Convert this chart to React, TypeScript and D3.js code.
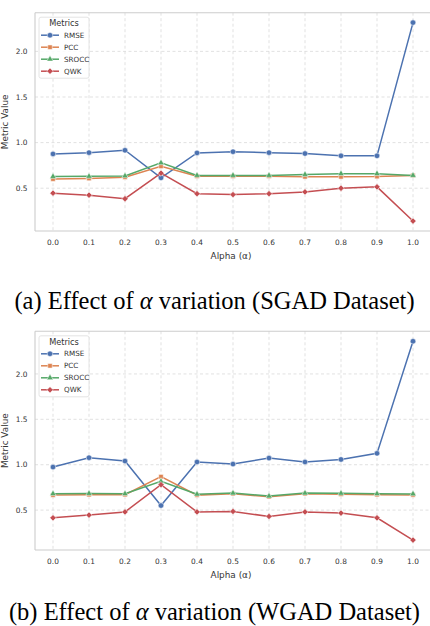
import React from 'react';
import * as d3 from 'd3';

// alpha values on the x axis
const alphas = [0.0, 0.1, 0.2, 0.3, 0.4, 0.5, 0.6, 0.7, 0.8, 0.9, 1.0];
const metricNames = ['RMSE', 'PCC', 'SROCC', 'QWK'];

// SGAD dataset
const sgadRmse = [0.876, 0.89, 0.916, 0.614, 0.887, 0.9, 0.89, 0.88, 0.855, 0.855, 2.315];
const sgadPcc = [0.6, 0.607, 0.62, 0.74, 0.632, 0.632, 0.632, 0.625, 0.625, 0.628, 0.64];
const sgadSrocc = [0.628, 0.63, 0.635, 0.778, 0.64, 0.64, 0.64, 0.65, 0.66, 0.66, 0.64];
const sgadQwk = [0.446, 0.424, 0.385, 0.665, 0.44, 0.43, 0.44, 0.46, 0.5, 0.515, 0.14];

// WGAD dataset
const wgadRmse = [0.974, 1.077, 1.04, 0.55, 1.03, 1.007, 1.073, 1.03, 1.058, 1.125, 2.36];
const wgadPcc = [0.665, 0.67, 0.67, 0.868, 0.665, 0.68, 0.647, 0.68, 0.675, 0.67, 0.667];
const wgadSrocc = [0.68, 0.683, 0.68, 0.816, 0.675, 0.687, 0.654, 0.687, 0.685, 0.68, 0.678];
const wgadQwk = [0.415, 0.445, 0.48, 0.78, 0.48, 0.485, 0.43, 0.48, 0.467, 0.415, 0.17];

const yTicks = [0.5, 1.0, 1.5, 2.0];

// seaborn "deep" palette
const colors = ['#4C72B0', '#DD8452', '#55A868', '#C44E52'];
const symbols = [d3.symbolCircle, d3.symbolSquare, d3.symbolTriangle, d3.symbolSquare];
const symbolSizes = [24, 20, 18, 20];
const symbolRotate = [0, 0, 0, 45];

const tickFont = 'DejaVu Sans, sans-serif';

type PanelProps = {
    series: number[][];
    top: number;
    bottom: number;
    caption: string;
    captionY: number;
};

const Panel: React.FC<PanelProps> = ({ series, top, bottom, caption, captionY }) => {
    const left = 35;
    const right = 431;

    const x = d3.scaleLinear().domain([-0.05, 1.05]).range([left, right]);

    // matplotlib-style 5% margin around data
    const all = series.flat();
    const lo = d3.min(all) || 0;
    const hi = d3.max(all) || 1;
    const pad = (hi - lo) * 0.05;
    const y = d3.scaleLinear().domain([lo - pad, hi + pad]).range([bottom, top]);

    const line = d3
        .line<number>()
        .x((_, i) => x(alphas[i]))
        .y((d) => y(d));

    const markerPath = (i: number, size: number) =>
        d3.symbol().type(symbols[i]).size(size)() || '';

    const midX = (left + right) / 2;
    const midY = (top + bottom) / 2;

    return (
        <g>
            {/* grid */}
            {alphas.map((a) => (
                <line
                    key={'gx' + a}
                    x1={x(a)}
                    x2={x(a)}
                    y1={top}
                    y2={bottom}
                    stroke="#d9d9d9"
                    strokeWidth={0.8}
                    strokeDasharray="3,2.5"
                />
            ))}
            {yTicks.map((t) => (
                <line
                    key={'gy' + t}
                    x1={left}
                    x2={right}
                    y1={y(t)}
                    y2={y(t)}
                    stroke="#d9d9d9"
                    strokeWidth={0.8}
                    strokeDasharray="3,2.5"
                />
            ))}

            {/* spines */}
            <line x1={left} x2={right} y1={top} y2={top} stroke="#cccccc" strokeWidth={1.1} />
            <line x1={left} x2={right} y1={bottom} y2={bottom} stroke="#cccccc" strokeWidth={1.1} />
            <line x1={left} x2={left} y1={top} y2={bottom} stroke="#cccccc" strokeWidth={1.1} />

            {/* tick labels */}
            {yTicks.map((t) => (
                <text
                    key={'ty' + t}
                    x={27.5}
                    y={y(t) + 2.7}
                    textAnchor="end"
                    fontFamily={tickFont}
                    fontSize={7.4}
                    fill="#333"
                >
                    {t.toFixed(1)}
                </text>
            ))}
            {alphas.map((a) => (
                <text
                    key={'tx' + a}
                    x={x(a)}
                    y={bottom + 13.5}
                    textAnchor="middle"
                    fontFamily={tickFont}
                    fontSize={7.4}
                    fill="#333"
                >
                    {a.toFixed(1)}
                </text>
            ))}

            {/* axis labels */}
            <text
                x={midX - 2}
                y={bottom + 27.5}
                textAnchor="middle"
                fontFamily={tickFont}
                fontSize={8.9}
                fill="#333"
            >
                Alpha (α)
            </text>
            <text
                transform={`translate(8,${midY}) rotate(-90)`}
                textAnchor="middle"
                fontFamily={tickFont}
                fontSize={8.9}
                fill="#333"
            >
                Metric Value
            </text>

            {/* series */}
            {series.map((s, i) => (
                <g key={'s' + i}>
                    <path d={line(s) || ''} fill="none" stroke={colors[i]} strokeWidth={1.5} />
                    {s.map((v, j) => (
                        <path
                            key={j}
                            d={markerPath(i, symbolSizes[i])}
                            transform={`translate(${x(alphas[j])},${y(v)}) rotate(${symbolRotate[i]})`}
                            fill={colors[i]}
                            stroke="white"
                            strokeWidth={0.5}
                        />
                    ))}
                </g>
            ))}

            {/* legend */}
            <g transform={`translate(39,${top + 4.5})`}>
                <rect
                    x={0}
                    y={0}
                    width={50}
                    height={61}
                    rx={2}
                    fill="white"
                    fillOpacity={0.85}
                    stroke="#dddddd"
                    strokeWidth={0.8}
                />
                <text
                    x={25}
                    y={8.8}
                    textAnchor="middle"
                    fontFamily={tickFont}
                    fontSize={8.2}
                    fill="#333"
                >
                    Metrics
                </text>
                {metricNames.map((name, i) => {
                    const ly = 18 + i * 12;
                    return (
                        <g key={name}>
                            <line x1={2} x2={20} y1={ly} y2={ly} stroke={colors[i]} strokeWidth={1.5} />
                            <path
                                d={markerPath(i, symbolSizes[i])}
                                transform={`translate(11,${ly}) rotate(${symbolRotate[i]})`}
                                fill={colors[i]}
                                stroke="white"
                                strokeWidth={0.5}
                            />
                            <text
                                x={25}
                                y={ly + 2.6}
                                fontFamily={tickFont}
                                fontSize={7.2}
                                fill="#333"
                            >
                                {name}
                            </text>
                        </g>
                    );
                })}
            </g>

            {/* caption */}
            <text
                x={214.5}
                y={captionY}
                textAnchor="middle"
                fontFamily="Liberation Serif, Times New Roman, serif"
                fontSize={24.5}
                fill="#000"
            >
                {caption.split('α')[0]}
                <tspan fontStyle="italic">α</tspan>
                {caption.split('α')[1]}
            </text>
        </g>
    );
};

const App: React.FC = () => {
    return (
        <div style={{ position: 'absolute', left: 0, top: 0, width: 430, height: 626, background: 'white' }}>
            <svg width={430} height={626} style={{ display: 'block' }}>
                <rect width={430} height={626} fill="white" />
                <Panel
                    series={[sgadRmse, sgadPcc, sgadSrocc, sgadQwk]}
                    top={12.7}
                    bottom={231}
                    caption="(a) Effect of α variation (SGAD Dataset)"
                    captionY={309}
                />
                <Panel
                    series={[wgadRmse, wgadPcc, wgadSrocc, wgadQwk]}
                    top={331.3}
                    bottom={550}
                    caption="(b) Effect of α variation (WGAD Dataset)"
                    captionY={620}
                />
            </svg>
        </div>
    );
};

export default App;
